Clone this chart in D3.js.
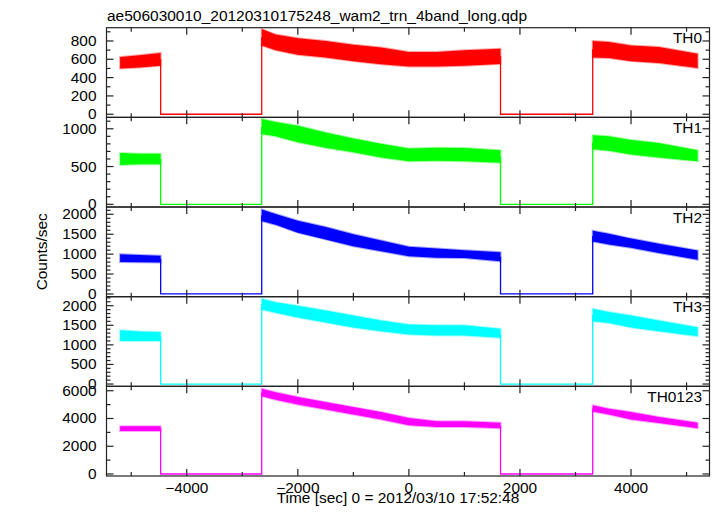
<!DOCTYPE html>
<html><head><meta charset="utf-8">
<script src="https://cdn.jsdelivr.net/npm/d3@7/dist/d3.min.js"></script>
<style>
html,body{margin:0;padding:0;background:#fff;}
svg{display:block;font-family:"Liberation Sans",Arial,Helvetica,sans-serif;}
</style></head>
<body>
<svg id="chart" width="717" height="516"></svg>
<script>
// ---------- data ----------
const titleText = "ae506030010_20120310175248_wam2_trn_4band_long.qdp";
const xLabelText = "Time [sec] 0 = 2012/03/10 17:52:48";
const yLabelText = "Counts/sec";
const panelNames = ["TH0", "TH1", "TH2", "TH3", "TH0123"];
const panelColors = ["#ff0000", "#00ff00", "#0000ff", "#00ffff", "#ff00ff"];
const xDomain = [-5445, 5413];
const xMajorTicks = [-4000, -2000, 0, 2000, 4000];
const xMinorTicks = [-5000, -3000, -1000, 1000, 3000, 5000];
const yDomains = [[-34, 945], [-36, 1151], [-68, 2183], [-59, 2230], [-144, 6317]];
const yMajorStep = [200, 500, 500, 500, 2000];
const yMinorStep = [100, 100, 100, 100, 1000];

// observation segments (sec); gaps between them have rate 0
const segTimes = [
  [-5200, -4850, -4470],
  [-2650, -2400, -2000, -1500, -1000, -500, 0, 500, 1000, 1650],
  [3310, 3600, 4000, 4500, 5200]
];
// lower / upper envelope of the noisy light curve, per segment
const th0Lo = [[500, 510, 530], [750, 700, 650, 620, 580, 545, 520, 520, 530, 550], [620, 615, 580, 560, 505]];
const th0Hi = [[625, 645, 670], [930, 870, 830, 800, 760, 730, 680, 680, 700, 715], [800, 790, 750, 735, 660]];
const th1Lo = [[520, 530, 530], [930, 900, 820, 750, 690, 620, 570, 575, 570, 550], [730, 710, 660, 620, 570]];
const th1Hi = [[680, 670, 670], [1130, 1090, 1040, 950, 870, 800, 740, 750, 745, 715], [915, 900, 850, 810, 715]];
const th2Lo = [[800, 795, 790], [1830, 1740, 1540, 1370, 1200, 1070, 950, 910, 900, 820], [1320, 1240, 1160, 1030, 860]];
const th2Hi = [[1000, 980, 960], [2120, 2010, 1840, 1680, 1500, 1340, 1185, 1140, 1100, 1050], [1590, 1510, 1390, 1260, 1090]];
const th3Lo = [[1100, 1100, 1100], [1900, 1820, 1700, 1570, 1440, 1350, 1265, 1240, 1240, 1180], [1600, 1560, 1440, 1350, 1220]];
const th3Hi = [[1370, 1340, 1330], [2180, 2090, 2000, 1880, 1750, 1620, 1520, 1500, 1500, 1410], [1920, 1840, 1750, 1620, 1450]];
const th0123Lo = [[3100, 3100, 3100], [5600, 5350, 5000, 4650, 4280, 3920, 3520, 3380, 3380, 3300], [4500, 4280, 3920, 3680, 3300]];
const th0123Hi = [[3450, 3450, 3450], [6150, 5900, 5550, 5180, 4820, 4460, 4040, 3800, 3800, 3700], [4950, 4700, 4460, 4100, 3700]];
const bandLo = [th0Lo, th1Lo, th2Lo, th3Lo, th0123Lo];
const bandHi = [th0Hi, th1Hi, th2Hi, th3Hi, th0123Hi];

// ---------- layout ----------
const svg = d3.select("#chart");
const plotL = 106.5, plotR = 709.5, plotT = 27.7, plotB = 476;
const nP = panelNames.length;
const ph = (plotB - plotT) / nP;
const fs = 14;
const sx = 1.1;

const x = d3.scaleLinear().domain(xDomain).range([plotL, plotR]);

function label(parent, tx, ty, str, anchor, extra) {
  return parent.append("text")
    .attr("transform", `translate(${tx},${ty}) ${extra || ""} scale(${sx},1)`)
    .attr("text-anchor", anchor).attr("font-size", fs).text(str);
}

svg.append("text").attr("x", 107).attr("y", 20.5)
  .attr("font-size", fs).attr("textLength", 420).attr("lengthAdjust", "spacingAndGlyphs")
  .text(titleText);

panelNames.forEach((name, i) => {
  const p0 = plotT + i * ph, p1 = p0 + ph;
  const y = d3.scaleLinear().domain(yDomains[i]).range([p1, p0]);
  const g = svg.append("g");
  const col = panelColors[i];
  const clipId = "clip" + i;
  svg.append("clipPath").attr("id", clipId).append("rect")
    .attr("x", plotL).attr("y", p0).attr("width", plotR - plotL).attr("height", ph);
  const dg = g.append("g").attr("clip-path", `url(#${clipId})`);

  // gap connector line (rate 0 between segments)
  const lo = bandLo[i], hi = bandHi[i];
  const pts = [];
  segTimes.forEach((ts, s) => {
    const firstMid = (lo[s][0] + hi[s][0]) / 2;
    const lastMid = (lo[s][ts.length - 1] + hi[s][ts.length - 1]) / 2;
    if (s > 0) { pts.push([ts[0], 0]); pts.push([ts[0], firstMid]); }
    if (s < segTimes.length - 1) { pts.push([ts[ts.length - 1], lastMid]); pts.push([ts[ts.length - 1], 0]); }
  });
  const line = d3.line().x(d => x(d[0])).y(d => y(d[1]));
  for (let k = 0; k < pts.length; k += 4) {
    dg.append("path").attr("d", line(pts.slice(k, k + 4)))
      .attr("fill", "none").attr("stroke", col).attr("stroke-width", 1.3);
  }

  // noisy band for each segment
  const area = d3.area().x(d => x(d.t)).y0(d => y(d.lo)).y1(d => y(d.hi));
  segTimes.forEach((ts, s) => {
    const rows = ts.map((t, j) => ({t, lo: lo[s][j], hi: hi[s][j]}));
    dg.append("path").attr("d", area(rows))
      .attr("fill", col).attr("stroke", col).attr("stroke-width", 2).attr("stroke-opacity", 0.35);
  });

  // frame
  g.append("rect").attr("x", plotL).attr("y", p0).attr("width", plotR - plotL).attr("height", ph)
    .attr("fill", "none").attr("stroke", "#222").attr("stroke-width", 1.2);

  // x ticks (top & bottom, inward)
  const tk = g.append("g").attr("stroke", "#222").attr("stroke-width", 1.2);
  xMajorTicks.forEach(t => {
    tk.append("line").attr("x1", x(t)).attr("x2", x(t)).attr("y1", p1).attr("y2", p1 - 7);
    tk.append("line").attr("x1", x(t)).attr("x2", x(t)).attr("y1", p0).attr("y2", p0 + 7);
  });
  xMinorTicks.forEach(t => {
    tk.append("line").attr("x1", x(t)).attr("x2", x(t)).attr("y1", p1).attr("y2", p1 - 4);
    tk.append("line").attr("x1", x(t)).attr("x2", x(t)).attr("y1", p0).attr("y2", p0 + 4);
  });
  // y ticks
  const [d0, d1] = yDomains[i];
  const minors = d3.range(Math.ceil(d0 / yMinorStep[i]) * yMinorStep[i], d1, yMinorStep[i]);
  minors.forEach(v => {
    const major = Math.abs(v / yMajorStep[i] - Math.round(v / yMajorStep[i])) < 1e-9;
    const len = major ? 7 : 4;
    tk.append("line").attr("x1", plotL).attr("x2", plotL + len).attr("y1", y(v)).attr("y2", y(v));
    tk.append("line").attr("x1", plotR).attr("x2", plotR - len).attr("y1", y(v)).attr("y2", y(v));
    if (major) {
      label(g, 96.5, y(v) + 5, String(v), "end");
    }
  });

  // panel label
  label(g, 702, p0 + 15.6, name, "end");

  // x tick labels on bottom panel
  if (i === nP - 1) {
    xMajorTicks.forEach(t => {
      label(g, x(t), 492.5, t < 0 ? "\u2212" + Math.abs(t) : String(t), "middle");
    });
  }
});

svg.append("text").attr("x", 276.7).attr("y", 502.8).attr("font-size", fs)
  .attr("textLength", 242.6).attr("lengthAdjust", "spacingAndGlyphs").text(xLabelText);

label(svg, 46.5, (plotT + plotB) / 2, yLabelText, "middle", "rotate(-90)");
</script>
</body></html>
